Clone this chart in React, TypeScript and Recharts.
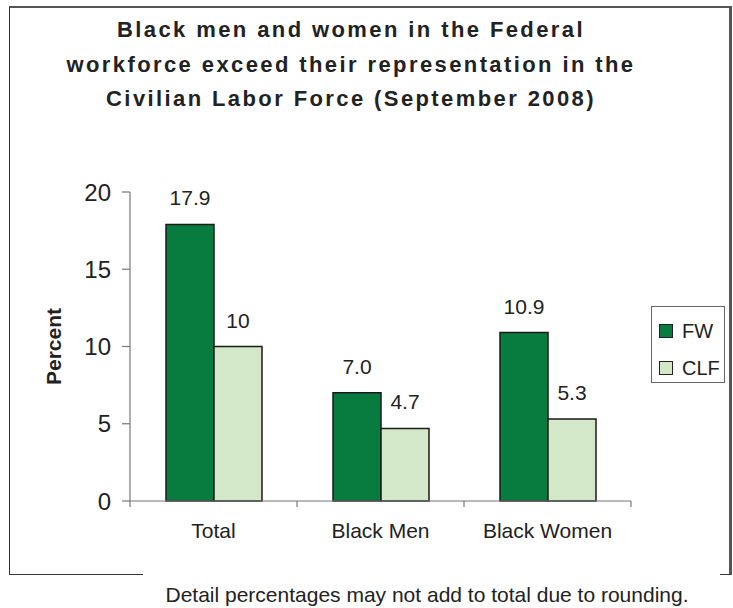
// Black men and women: Federal workforce vs Civilian Labor Force, Sept 2008
import { BarChart, Bar, XAxis, YAxis, Legend, LabelList } from 'recharts';

const categories = ['Total', 'Black Men', 'Black Women'];
const fwValues = [17.9, 7.0, 10.9];
const clfValues = [10, 4.7, 5.3];
const fwLabels = ['17.9', '7.0', '10.9'];
const clfLabels = ['10', '4.7', '5.3'];
const yTicks = [0, 5, 10, 15, 20];
const seriesOrder = ['FW', 'CLF'];

const titleLines = [
  'Black men and women in the Federal',
  'workforce exceed their representation in the',
  'Civilian Labor Force (September 2008)',
];
const footnote = 'Detail percentages may not add to total due to rounding.';

const FONT = '"Liberation Sans", Arial, Helvetica, sans-serif';
const INK = '#222';
const FW_COLOR = '#087c3f';
const CLF_COLOR = '#d2e8c8';
const AXIS = '#777';

const data = categories.map((name, i) => ({
  name,
  fw: fwValues[i],
  clf: clfValues[i],
  fwLabel: fwLabels[i],
  clfLabel: clfLabels[i],
}));

// category labels plus the little marks between categories
function CategoryTick(props: any) {
  const { x, y, payload, index, visibleTicksCount } = props;
  const half = payload && payload.offset ? payload.offset : 83.5;
  const last = index === (visibleTicksCount ?? categories.length) - 1;
  return (
    <g>
      <line x1={x - half} x2={x - half} y1={y} y2={y + 6} stroke={AXIS} strokeWidth={1.2} />
      {last && <line x1={x + half} x2={x + half} y1={y} y2={y + 6} stroke={AXIS} strokeWidth={1.2} />}
      <text x={x} y={y + 37} textAnchor="middle" fontSize={21} fill={INK} fontFamily={FONT}>
        {payload.value}
      </text>
    </g>
  );
}

function LegendBox(props: any) {
  const items = [...(props.payload || [])].sort(
    (a: any, b: any) => seriesOrder.indexOf(a.value) - seriesOrder.indexOf(b.value)
  );
  return (
    <div
      style={{
        position: 'relative',
        width: 74,
        height: 77,
        border: '1px solid #666',
        boxSizing: 'border-box',
        fontFamily: FONT,
        color: INK,
      }}
    >
      {items.map((it: any, i: number) => (
        <div key={it.value} style={{ position: 'absolute', left: 7, top: 14 + i * 37, display: 'flex', alignItems: 'center' }}>
          <span
            style={{
              display: 'inline-block',
              width: 12,
              height: 12,
              background: it.color,
              border: '1px solid #222',
              marginRight: 9,
            }}
          />
          <span style={{ fontSize: 20, lineHeight: '20px' }}>{it.value}</span>
        </div>
      ))}
    </div>
  );
}

export default function App() {
  return (
    <div style={{ position: 'absolute', left: 0, top: 0, width: 733, height: 608, background: '#fff', fontFamily: FONT }}>
      <div
        style={{
          position: 'absolute',
          left: 9,
          top: 6,
          width: 723,
          height: 569,
          boxSizing: 'border-box',
          borderLeft: '1px solid #333',
          borderTop: '2px solid #555',
          borderRight: '3px solid #555',
          borderBottom: '1px solid #333',
        }}
      />
      <div
        style={{
          position: 'absolute',
          left: 0,
          top: 13,
          width: 702,
          textAlign: 'center',
          fontSize: 22,
          fontWeight: 'bold',
          letterSpacing: 2.4,
          lineHeight: '34.5px',
          color: INK,
        }}
      >
        {titleLines.map((t) => (
          <div key={t}>{t}</div>
        ))}
      </div>
      <div style={{ position: 'absolute', left: 0, top: 0 }}>
        <BarChart
          width={733}
          height={608}
          data={data}
          margin={{ top: 192, right: 102, bottom: 67, left: 70 }}
          barGap={0}
        >
          <XAxis
            dataKey="name"
            height={40}
            tickSize={0}
            tickMargin={0}
            tickLine={false}
            axisLine={{ stroke: AXIS, strokeWidth: 1.2 }}
            tick={<CategoryTick />}
            interval={0}
          />
          <YAxis
            width={60}
            domain={[0, 20]}
            ticks={yTicks}
            tickSize={8}
            tickMargin={11}
            axisLine={{ stroke: AXIS, strokeWidth: 1.2 }}
            tickLine={{ stroke: AXIS, strokeWidth: 1.2 }}
            tick={{ fontSize: 24, fill: INK, fontFamily: FONT }}
            label={{
              value: 'Percent',
              angle: -90,
              position: 'insideLeft',
              offset: -16,
              style: { fontSize: 21, fontWeight: 'bold', fill: INK, fontFamily: FONT, textAnchor: 'middle' },
            }}
          />
          <Legend
            layout="vertical"
            align="center"
            verticalAlign="middle"
            wrapperStyle={{ left: 651, top: 306, width: 74, height: 77 }}
            content={<LegendBox />}
          />
          <Bar dataKey="fw" name="FW" fill={FW_COLOR} stroke="#1a1a1a" strokeWidth={1.5} barSize={48} isAnimationActive={false}>
            <LabelList dataKey="fwLabel" position="top" offset={19} fontSize={21} fill={INK} fontFamily={FONT} />
          </Bar>
          <Bar dataKey="clf" name="CLF" fill={CLF_COLOR} stroke="#1a1a1a" strokeWidth={1.5} barSize={48} isAnimationActive={false}>
            <LabelList dataKey="clfLabel" position="top" offset={19} fontSize={21} fill={INK} fontFamily={FONT} />
          </Bar>
        </BarChart>
      </div>
      <div
        style={{
          position: 'absolute',
          left: 143,
          top: 566,
          width: 577,
          height: 42,
          background: '#fff',
        }}
      />
      <div
        style={{
          position: 'absolute',
          left: 143,
          top: 584,
          width: 568,
          textAlign: 'center',
          fontSize: 21,
          lineHeight: '21px',
          color: INK,
          whiteSpace: 'nowrap',
        }}
      >
        {footnote}
      </div>
    </div>
  );
}
